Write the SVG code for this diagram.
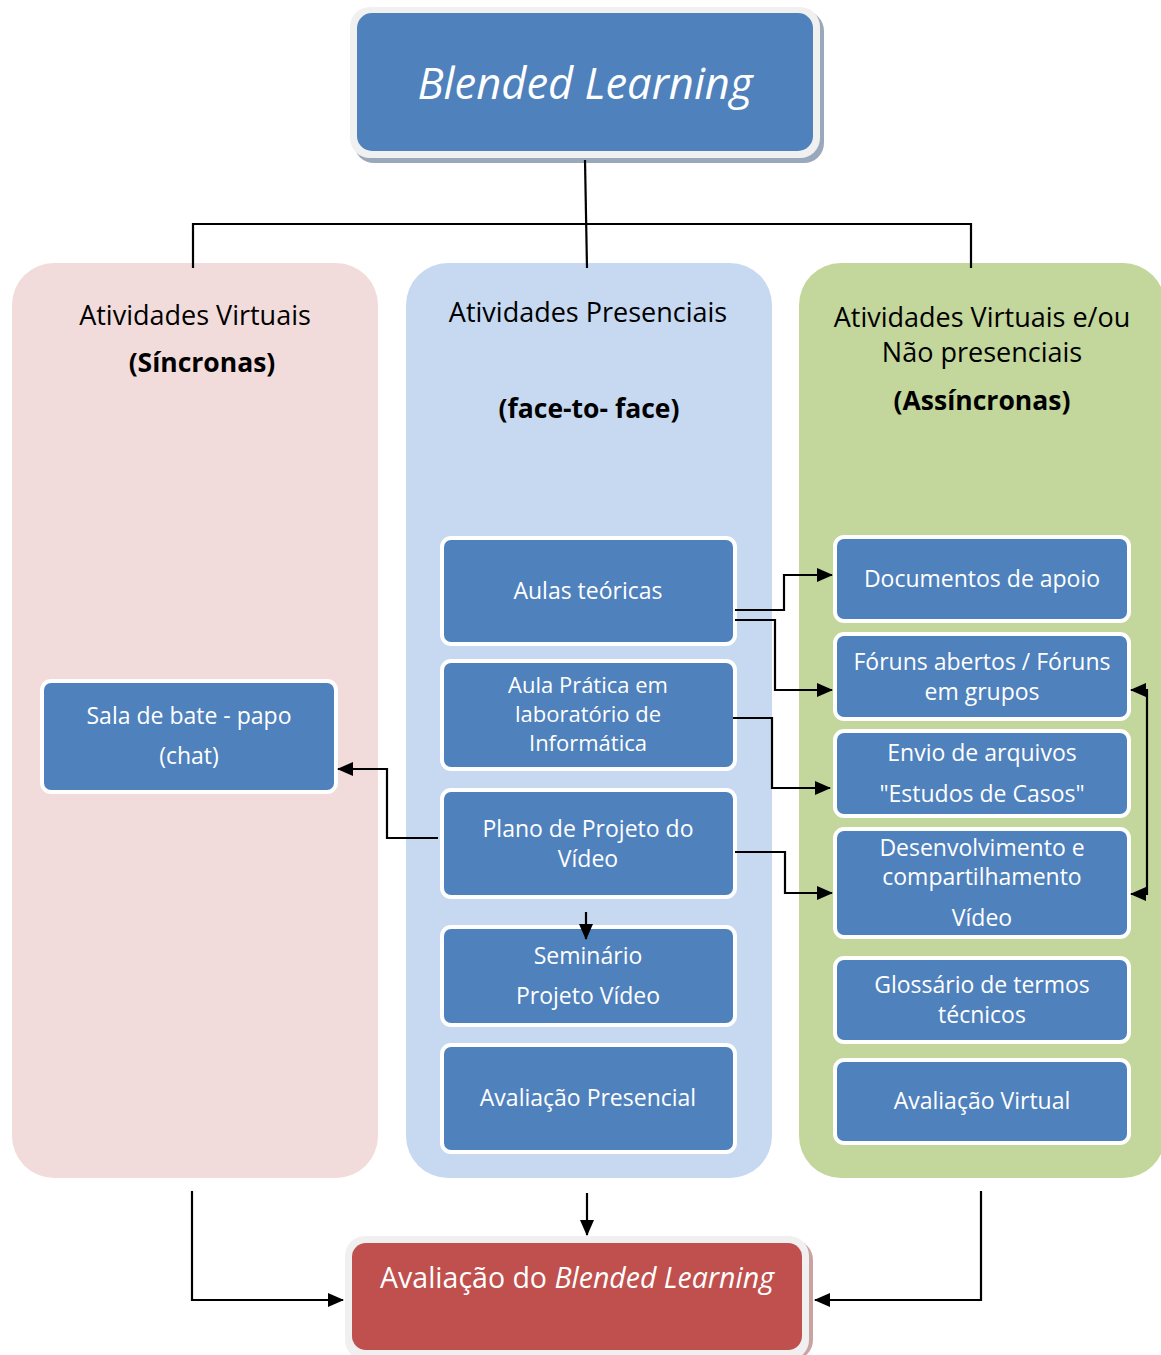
<svg xmlns="http://www.w3.org/2000/svg" width="1161" height="1355" viewBox="0 0 1161 1355">
  <style>
    .t { font-family: "Open Sans", "Liberation Sans", sans-serif; text-anchor: middle; }
    .hdr { font-size: 27px; fill: #000; }
    .hdrb { font-size: 26.5px; fill: #000; font-weight: bold; }
    .box { fill: #4F81BD; stroke: #FFFFFF; stroke-width: 4; }
    .btxt { font-size: 23px; fill: #FFFFFF; }
    .tight { font-size: 22px; }
    .wire { fill: none; stroke: #000; stroke-width: 2.2; }
  </style>
  <defs>
    <marker id="ah" viewBox="0 0 16 14" refX="15" refY="7" markerWidth="16" markerHeight="14" markerUnits="userSpaceOnUse" orient="auto-start-reverse">
      <path d="M0,0 L16,7 L0,14 Z" fill="#000"/>
    </marker>
  </defs>

  <!-- column backgrounds -->
  <g id="col-sincronas">
    <rect x="12" y="263" width="366" height="915" rx="42" fill="#F2DCDB"/>
    <text class="t hdr" x="195" y="325">Atividades Virtuais</text>
    <text class="t hdrb" x="202" y="372">(Síncronas)</text>
  </g>
  <g id="col-presenciais">
    <rect x="406" y="263" width="366" height="915" rx="42" fill="#C6D9F1"/>
    <text class="t hdr" x="588" y="322">Atividades Presenciais</text>
    <text class="t hdrb" x="589" y="418">(face-to- face)</text>
  </g>
  <g id="col-assincronas">
    <rect x="799" y="263" width="366" height="915" rx="42" fill="#C3D69B"/>
    <text class="t hdr" x="982" y="327">Atividades Virtuais e/ou</text>
    <text class="t hdr" x="982" y="362">Não presenciais</text>
    <text class="t hdrb" x="982" y="410">(Assíncronas)</text>
  </g>

  <!-- top node -->
  <g id="blended-learning">
    <rect x="354" y="11" width="470" height="152" rx="20" fill="#9AA8BC"/>
    <rect x="350" y="7" width="470" height="151" rx="20" fill="#F0F0F0"/>
    <rect x="357" y="13" width="456" height="138" rx="15" fill="#4F81BD"/>
    <text class="t" x="585" y="99" font-size="43.5" font-style="italic" fill="#FFFFFF">Blended Learning</text>
  </g>

  <!-- left column node -->
  <g id="sala-bate-papo">
    <rect class="box" x="42" y="681" width="294" height="111" rx="9"/>
    <text class="t btxt" x="189" y="724">Sala de bate - papo</text>
    <text class="t btxt" x="189" y="764">(chat)</text>
  </g>

  <!-- middle column nodes -->
  <g id="aulas-teoricas">
    <rect class="box" x="442" y="538" width="293" height="106" rx="9"/>
    <text class="t btxt" x="588" y="599">Aulas teóricas</text>
  </g>
  <g id="aula-pratica">
    <rect class="box" x="442" y="661" width="293" height="108" rx="9"/>
    <text class="t btxt tight" x="588" y="693">Aula Prática em</text>
    <text class="t btxt tight" x="588" y="722">laboratório de</text>
    <text class="t btxt tight" x="588" y="751">Informática</text>
  </g>
  <g id="plano-projeto">
    <rect class="box" x="442" y="790" width="293" height="107" rx="9"/>
    <text class="t btxt" x="588" y="837">Plano de Projeto do</text>
    <text class="t btxt" x="588" y="867">Vídeo</text>
  </g>
  <g id="seminario">
    <rect class="box" x="442" y="927" width="293" height="98" rx="9"/>
    <text class="t btxt" x="588" y="964">Seminário</text>
    <text class="t btxt" x="588" y="1004">Projeto Vídeo</text>
  </g>
  <g id="avaliacao-presencial">
    <rect class="box" x="442" y="1045" width="293" height="107" rx="9"/>
    <text class="t btxt" x="588" y="1106">Avaliação Presencial</text>
  </g>

  <!-- right column nodes -->
  <g id="documentos">
    <rect class="box" x="835" y="537" width="294" height="84" rx="9"/>
    <text class="t btxt" x="982" y="587">Documentos de apoio</text>
  </g>
  <g id="foruns">
    <rect class="box" x="835" y="634" width="294" height="85" rx="9"/>
    <text class="t btxt" x="982" y="670">Fóruns abertos / Fóruns</text>
    <text class="t btxt" x="982" y="700">em grupos</text>
  </g>
  <g id="envio-arquivos">
    <rect class="box" x="835" y="731" width="294" height="85" rx="9"/>
    <text class="t btxt" x="982" y="761">Envio de arquivos</text>
    <text class="t btxt" x="982" y="802">"Estudos de Casos"</text>
  </g>
  <g id="desenvolvimento">
    <rect class="box" x="835" y="829" width="294" height="108" rx="9"/>
    <text class="t btxt" x="982" y="856">Desenvolvimento e</text>
    <text class="t btxt" x="982" y="885">compartilhamento</text>
    <text class="t btxt" x="982" y="926">Vídeo</text>
  </g>
  <g id="glossario">
    <rect class="box" x="835" y="958" width="294" height="84" rx="9"/>
    <text class="t btxt" x="982" y="993">Glossário de termos</text>
    <text class="t btxt" x="982" y="1023">técnicos</text>
  </g>
  <g id="avaliacao-virtual">
    <rect class="box" x="835" y="1060" width="294" height="83" rx="9"/>
    <text class="t btxt" x="982" y="1109">Avaliação Virtual</text>
  </g>

  <!-- bottom node -->
  <g id="avaliacao-blended">
    <rect x="349" y="1240" width="464" height="120" rx="20" fill="#C9A3A2"/>
    <rect x="345" y="1236" width="464" height="124" rx="20" fill="#F0F0F0"/>
    <rect x="352" y="1243" width="450" height="107" rx="14" fill="#C0504D"/>
    <text class="t" x="577" y="1288" font-size="28.5" fill="#FFFFFF">Avaliação do <tspan font-style="italic">Blended Learning</tspan></text>
  </g>

  <!-- connectors -->
  <g id="connectors">
    <path class="wire" d="M585,160 L587,268"/>
    <path class="wire" d="M193,268 L193,224 L971,224 L971,268"/>
    <path class="wire" d="M735,610 L784,610 L784,575 L832,575" marker-end="url(#ah)"/>
    <path class="wire" d="M735,620 L775,620 L775,690 L832,690" marker-end="url(#ah)"/>
    <path class="wire" d="M733,718 L772,718 L772,788 L830,788" marker-end="url(#ah)"/>
    <path class="wire" d="M735,852 L785,852 L785,893 L832,893" marker-end="url(#ah)"/>
    <path class="wire" d="M1131,690 L1147,690 L1147,894 L1131,894" marker-start="url(#ah)" marker-end="url(#ah)"/>
    <path class="wire" d="M438,838 L387,838 L387,769 L338,769" marker-end="url(#ah)"/>
    <path class="wire" d="M586,912 L586,939" marker-end="url(#ah)"/>
    <path class="wire" d="M192,1191 L192,1300 L343,1300" marker-end="url(#ah)"/>
    <path class="wire" d="M587,1193 L587,1235" marker-end="url(#ah)"/>
    <path class="wire" d="M981,1191 L981,1300 L815,1300" marker-end="url(#ah)"/>
  </g>
</svg>
